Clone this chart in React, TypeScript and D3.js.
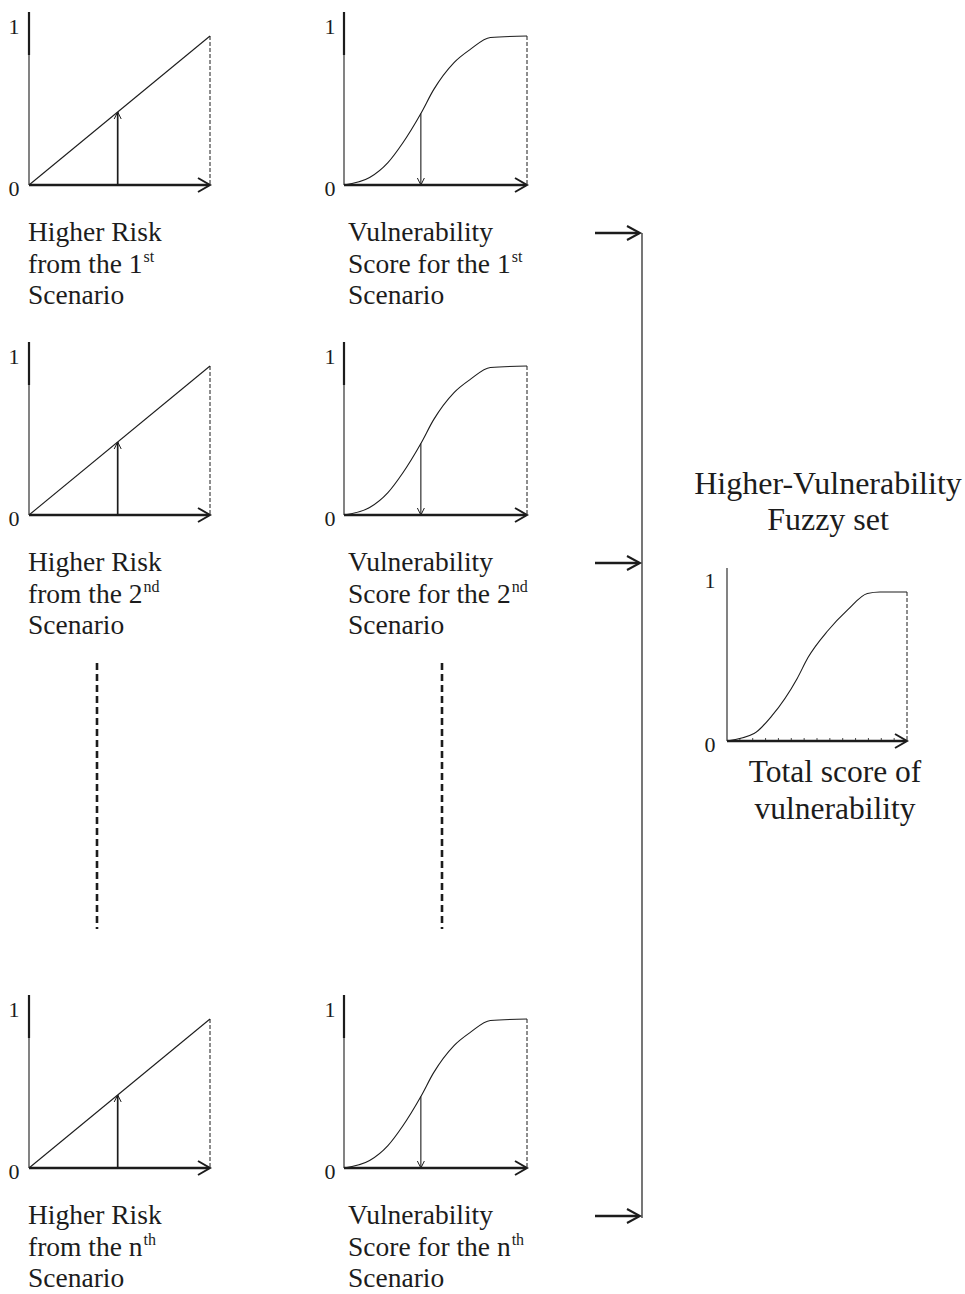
import * as d3 from "d3";

// ---- data ----
const riskLine = [0, 1]; // "higher risk" membership is the straight line y = x
const riskInput = [0.49, 0.49, 0.49]; // up-arrow position in each risk panel
const scoreX = [0, 0.14, 0.24, 0.32, 0.42, 0.49, 0.6, 0.69, 0.8, 1];
const scoreY = [0, 0.05, 0.15, 0.28, 0.48, 0.64, 0.82, 0.91, 0.99, 1];
const scoreOutput = [0.42, 0.42, 0.42]; // down-arrow position in each score panel
const scoreMembership = [0.48, 0.48, 0.48];
const totalX = [0, 0.15, 0.25, 0.39, 0.45, 0.56, 0.67, 0.78, 0.85, 1];
const totalY = [0, 0.05, 0.17, 0.42, 0.56, 0.74, 0.88, 0.99, 1, 1];
const totalTicks = d3.range(1, 14).map((i) => i / 14);
const ordinals = [
  ["1", "st"],
  ["2", "nd"],
  ["n", "th"],
];
const riskLabel = ["Higher Risk", "from the", "Scenario"];
const scoreLabel = ["Vulnerability", "Score for the", "Scenario"];
const titleLines = ["Higher-Vulnerability", "Fuzzy set"];
const totalLabel = ["Total score of", "vulnerability"];

// ---- layout ----
const W = 965;
const H = 1294;
const rowAxisY = [185, 515, 1168];
const PANEL_H = 149;
const OVERHANG = 24;
const INK = "#1c1c1c";
const FONT = "'Liberation Serif', 'Times New Roman', serif";

type Arrow = { at: number; from: number; to: number };

function head(x: number, y: number, dx: number, dy: number, len: number, spread: number) {
  // open chevron pointing along (dx, dy)
  const px = -dy;
  const py = dx;
  const bx = x - dx * len;
  const by = y - dy * len;
  return `M${bx + px * spread},${by + py * spread}L${x},${y}L${bx - px * spread},${by - py * spread}`;
}

function Panel({
  left,
  width,
  axisY,
  xs,
  ys,
  arrow,
  thickTop,
  ticks,
  zeroDx,
  oneDy,
}: {
  left: number;
  width: number;
  axisY: number;
  xs: number[];
  ys: number[];
  arrow?: Arrow;
  thickTop?: boolean;
  ticks?: number[];
  zeroDx: number;
  oneDy: number;
}) {
  const x = d3.scaleLinear().domain([0, 1]).range([left, left + width]);
  const y = d3.scaleLinear().domain([0, 1]).range([axisY, axisY - PANEL_H]);
  const pts = xs.map((v, i) => [v, ys[i]] as [number, number]);
  const line = d3
    .line<[number, number]>()
    .x((d) => x(d[0]))
    .y((d) => y(d[1]))
    .curve(xs.length > 2 ? d3.curveMonotoneX : d3.curveLinear);
  const top = y(1) - OVERHANG;
  const end = x(1);

  let arrowEl = null;
  if (arrow) {
    const ax = x(arrow.at);
    const y0 = y(arrow.from);
    const y1 = y(arrow.to);
    const dir = y1 < y0 ? -1 : 1;
    arrowEl = (
      <g stroke={INK} fill="none">
        <line x1={ax} x2={ax} y1={y0} y2={y1} strokeWidth={dir < 0 ? 1.7 : 1.1} />
        <path d={head(ax, y1, 0, dir, 7, 3.5)} strokeWidth={1} />
      </g>
    );
  }

  return (
    <g>
      {/* y axis */}
      <line x1={left} x2={left} y1={top} y2={axisY} stroke={INK} strokeWidth={1.1} />
      {thickTop && (
        <line x1={left} x2={left} y1={top} y2={top + 43} stroke={INK} strokeWidth={2.2} />
      )}
      {/* dashed right edge */}
      <line
        x1={end}
        x2={end}
        y1={y(1)}
        y2={axisY}
        stroke={INK}
        strokeWidth={1}
        strokeDasharray="4 2"
      />
      {/* membership function */}
      <path d={line(pts) ?? ""} fill="none" stroke={INK} strokeWidth={1.1} />
      {arrowEl}
      {ticks &&
        ticks.map((t) => (
          <line key={t} x1={x(t)} x2={x(t)} y1={axisY} y2={axisY - 3} stroke={INK} strokeWidth={0.8} />
        ))}
      {/* x axis */}
      <line x1={left} x2={end - 1} y1={axisY} y2={axisY} stroke={INK} strokeWidth={2.6} />
      <path d={head(end, axisY, 1, 0, 12, 7)} fill="none" stroke={INK} strokeWidth={2} />
      <text x={left - zeroDx} y={axisY + 11} textAnchor="middle" fontSize={22} fill={INK}>
        0
      </text>
      <text x={left - zeroDx} y={y(1) + oneDy} textAnchor="middle" fontSize={22} fill={INK}>
        1
      </text>
    </g>
  );
}

function Caption({ x, y, lines, ord }: { x: number; y: number; lines: string[]; ord: string[] }) {
  return (
    <g fontSize={27.5} fill={INK}>
      <text x={x} y={y}>
        {lines[0]}
      </text>
      <text x={x} y={y + 31.5}>
        <tspan>{`${lines[1]} ${ord[0]}`}</tspan>
        <tspan fontSize={16} dy={-11} dx={1}>
          {ord[1]}
        </tspan>
      </text>
      <text x={x} y={y + 63}>
        {lines[2]}
      </text>
    </g>
  );
}

function Feed({ y }: { y: number }) {
  return (
    <g stroke={INK} fill="none">
      <line x1={595} x2={639} y1={y} y2={y} strokeWidth={2.6} />
      <path d={head(640, y, 1, 0, 13, 7)} strokeWidth={2} />
    </g>
  );
}

export default function App() {
  return (
    <svg
      width={W}
      height={H}
      viewBox={`0 0 ${W} ${H}`}
      style={{ position: "absolute", left: 0, top: 0, background: "#fff" }}
      fontFamily={FONT}
    >
      {rowAxisY.map((ay, i) => (
        <g key={i}>
          <Panel
            left={29}
            width={181}
            axisY={ay}
            xs={riskLine}
            ys={riskLine}
            arrow={{ at: riskInput[i], from: 0, to: riskInput[i] }}
            thickTop
            zeroDx={15}
            oneDy={-2}
          />
          <Panel
            left={344}
            width={183}
            axisY={ay}
            xs={scoreX}
            ys={scoreY}
            arrow={{ at: scoreOutput[i], from: scoreMembership[i], to: 0 }}
            thickTop
            zeroDx={14}
            oneDy={-2}
          />
          <Caption x={28} y={ay + 56} lines={riskLabel} ord={ordinals[i]} />
          <Caption x={348} y={ay + 56} lines={scoreLabel} ord={ordinals[i]} />
          <Feed y={ay + 48} />
        </g>
      ))}

      {/* vertical ellipsis between 2nd and nth scenario */}
      {[97, 442].map((cx) => (
        <line
          key={cx}
          x1={cx}
          x2={cx}
          y1={663}
          y2={929}
          stroke={INK}
          strokeWidth={2.6}
          strokeDasharray="7 4"
        />
      ))}

      {/* collector line */}
      <line x1={642} x2={642} y1={rowAxisY[0] + 48} y2={rowAxisY[2] + 50} stroke={INK} strokeWidth={1.2} />

      {/* aggregated fuzzy set */}
      <g fontSize={32} fill={INK} textAnchor="middle">
        <text x={828} y={494}>
          {titleLines[0]}
        </text>
        <text x={828} y={530}>
          {titleLines[1]}
        </text>
      </g>
      <Panel
        left={727}
        width={180}
        axisY={741}
        xs={totalX}
        ys={totalY}
        ticks={totalTicks}
        zeroDx={17}
        oneDy={-4}
      />
      <g fontSize={31.5} fill={INK} textAnchor="middle">
        <text x={835} y={782}>
          {totalLabel[0]}
        </text>
        <text x={835} y={819}>
          {totalLabel[1]}
        </text>
      </g>
    </svg>
  );
}
